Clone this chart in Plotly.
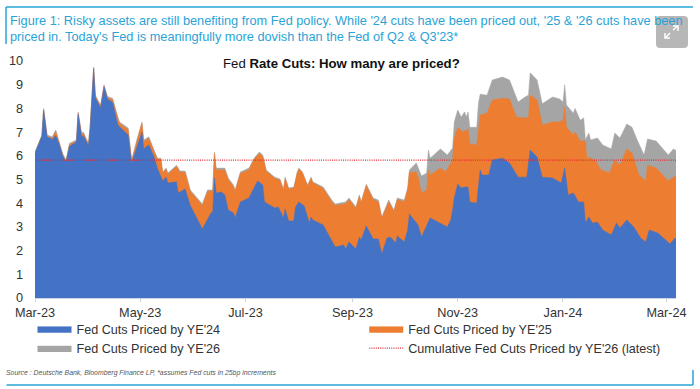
import pandas as pd
import plotly.graph_objects as go

START = pd.Timestamp("2023-03-01")

top_days = [0,4,5,7,10,12,14,16,18,20,24,25,27,28,31,32,34,35,38,40,42,45,48,49,54,56,59,62,63,66,69,71,73,74,76,77,82,84,87,90,97,100,103,104,105,110,112,115,116,119,124,127,130,132,134,139,142,144,145,147,150,152,153,155,158,160,161,167,172,174,180,182,186,188,189,192,196,199,201,205,208,210,214,216]
ye26_early = [6.16,6.88,8.0,6.88,6.8,7.09,6.6,6.1,5.82,6.53,6.67,7.85,6.96,7.0,6.53,7.3,9.75,8.56,8.14,9.0,8.5,8.43,7.64,7.43,7.17,5.82,6.67,7.43,6.67,6.8,6.24,5.9,5.9,5.32,5.48,5.27,5.6,5.36,5.36,4.56,3.97,4.56,4.56,6.16,5.48,5.48,5.06,4.77,4.56,5.32,5.48,5.9,6.16,6.03,5.4,5.1,5.02,4.6,5.1,4.64,4.68,5.32,5.48,5.32,4.77,5.1,4.9,4.68,4.13,3.97,4.05,4.22,3.84,4.35,4.05,4.8,4.22,4.13,3.42,4.13,3.71,4.22,4.13,4.64]
ye25_early = [6.13,6.84,7.95,6.83,6.74,7.03,6.55,6.05,5.77,6.48,6.62,7.8,6.9,6.95,6.47,7.25,9.7,8.5,8.08,8.95,8.44,8.36,7.57,7.36,7.1,5.77,6.6,7.37,6.6,6.73,6.18,5.85,5.85,5.27,5.43,5.22,5.55,5.31,5.3,4.5,3.9,4.5,4.5,6.1,5.4,5.4,5.0,4.7,4.5,5.25,5.4,5.85,6.1,5.97,5.35,5.05,4.97,4.55,5.05,4.6,4.63,5.28,5.44,5.27,4.72,5.05,4.86,4.62,4.06,3.9,3.98,4.15,3.78,4.3,4.0,4.75,4.15,4.06,3.37,4.06,3.65,4.16,4.05,4.58]

ye26_days = top_days + [217,221,224,227,228,229,235,239,242,243,245,247,249,250,251,252,256,257,258,262,265,271,275,280,284,286,287,291,294,300,304,306,307,308,312,313,316,318,319,321,322,326,329,334,336,339,343,346,349,353,355,360,367,370,372]
ye26 = ye26_early + [5.4,5.7,5.15,5.27,6.24,5.9,6.29,6.03,6.33,7.43,7.93,7.64,7.85,7.64,7.85,7.2,7.2,8.2,8.6,8.56,9.2,9.32,9.2,8.27,8.48,8.56,9.5,9.2,8.2,8.48,8.4,8.27,9.0,8.14,7.8,8.0,7.5,7.6,6.67,6.96,6.67,6.75,6.46,6.29,6.96,6.75,7.34,7.2,6.67,6.03,6.71,6.62,6.03,6.29,6.2]

ye25_days = top_days + [217,221,222,224,227,228,229,235,238,242,243,245,248,251,252,256,258,262,265,271,275,279,284,286,287,291,294,300,304,306,307,308,312,313,316,319,320,321,325,328,333,336,339,343,346,350,354,355,360,367,371,372]
ye25 = ye25_early + [5.3,5.32,5.1,4.43,4.56,5.4,5.19,5.48,5.32,5.82,6.75,7.2,7.0,7.13,6.5,6.46,7.72,7.8,8.35,8.43,8.4,7.64,7.6,7.6,8.56,8.35,7.3,7.43,7.43,7.5,8.06,7.2,6.88,7.0,6.62,6.62,5.7,5.95,5.78,5.4,5.27,5.82,5.6,6.29,6.12,5.19,4.94,5.6,5.48,4.94,5.15,5.1]

ye24_days = [0,4,5,7,10,12,14,16,18,20,24,25,27,28,31,32,34,35,38,40,42,45,48,54,56,59,62,63,66,69,71,74,76,77,82,83,87,90,97,102,103,104,105,108,110,112,115,116,119,124,127,129,132,133,139,141,144,145,147,150,151,153,156,159,160,161,167,171,174,179,180,182,186,188,189,192,196,199,201,204,206,209,210,214,216,217,222,224,229,239,241,242,243,245,247,249,251,252,256,258,259,263,265,271,275,280,285,287,291,294,300,305,307,309,312,315,318,319,321,323,326,329,334,337,339,343,347,351,354,356,361,368,371,372]
ye24 = [6.12,6.82,7.93,6.8,6.7,6.85,6.5,6.0,5.75,6.4,6.58,7.75,6.8,6.85,6.42,7.2,9.68,8.45,8.02,8.9,8.4,8.25,7.3,6.88,5.7,6.4,7.0,6.3,6.46,5.95,5.45,4.95,5.1,4.85,4.9,4.43,4.6,3.9,2.91,3.59,3.63,5.06,4.43,4.47,4.35,3.71,3.59,3.38,4.05,4.22,4.68,4.94,4.77,4.05,3.8,3.84,3.38,3.76,3.25,3.25,3.84,4.05,3.88,3.16,3.42,3.29,3.08,2.57,2.15,2.24,2.07,2.36,2.07,2.57,2.45,3.04,2.49,2.49,1.86,2.53,2.57,2.32,2.62,2.36,2.87,3.54,3.08,2.57,3.38,3.0,3.3,3.7,4.22,4.81,4.64,4.68,4.68,4.05,4.0,5.4,5.19,5.19,5.82,5.9,5.7,5.1,5.1,6.24,5.95,5.1,5.06,4.85,5.48,4.35,4.43,4.05,4.05,3.16,3.42,3.16,3.2,2.87,2.66,3.16,2.95,3.29,3.0,2.53,2.36,2.87,2.74,2.28,2.53,2.5]

latest_days = [0, 372]
latest = [5.82, 5.82]

tick_dates = ["2023-03-01","2023-05-01","2023-07-01","2023-09-01","2023-11-01","2024-01-01","2024-03-01"]
tick_labels = ["Mar-23","May-23","Jul-23","Sep-23","Nov-23","Jan-24","Mar-24"]
caption_1 = "Figure 1: Risky assets are still benefiting from Fed policy. While '24 cuts have been priced out, '25 & '26 cuts have been"
caption_2 = "priced in. Today's Fed is meaningfully more dovish than the Fed of Q2 & Q3'23*"
source_text = "Source : Deutsche Bank, Bloomberg Finance LP, *assumes Fed cuts in 25bp increments"

def dates(days):
    return [START + pd.Timedelta(days=d) for d in days]

W, H = 700, 389
L, R, T, B = 34.5, 676, 61, 298
def px(x): return (x - L) / (R - L)
def py(y): return (B - y) / (B - T)

FONT = "Liberation Sans"
FRAME = "#2aa3d6"
fig = go.Figure()
for name, d, v, col, rank, lg in [
    ("Fed Cuts Priced by YE'26", ye26_days, ye26, "#a5a5a5", 2, "legend"),
    ("Fed Cuts Priced by YE'25", ye25_days, ye25, "#ed7d31", 1, "legend2"),
    ("Fed Cuts Priced by YE'24", ye24_days, ye24, "#4472c4", 1, "legend"),
]:
    fig.add_trace(go.Scatter(x=dates(d), y=v, name=name, mode="lines", fill="tozeroy", legend=lg,
                             fillcolor=col, line=dict(color=col, width=0.5), legendrank=rank))
fig.add_trace(go.Scatter(x=dates(latest_days), y=latest, name="Cumulative Fed Cuts Priced by YE'26 (latest)", legend="legend2",
                         mode="lines", line=dict(color="#e3262e", width=1.2, dash="1px,1.2px"), legendrank=2))

shapes = []
def frame(x0, y0, x1, y1):
    shapes.append(dict(type="line", xref="paper", yref="paper", x0=px(x0), y0=py(y0), x1=px(x1), y1=py(y1),
                       line=dict(color=FRAME, width=1.5)))
frame(5.5, 7, 693, 7); frame(5.5, 7, 5.5, 44); frame(6, 385, 693, 385); frame(693, 370, 693, 385)
shapes.append(dict(type="path", xref="paper", yref="paper", fillcolor="rgba(170,170,170,0.85)", line=dict(width=0),
    path=f"M {px(660)} {py(16)} L {px(684)} {py(16)} Q {px(688)} {py(16)} {px(688)} {py(20)} L {px(688)} {py(44)} Q {px(688)} {py(48)} {px(684)} {py(48)} L {px(660)} {py(48)} Q {px(656)} {py(48)} {px(656)} {py(44)} L {px(656)} {py(20)} Q {px(656)} {py(16)} {px(660)} {py(16)} Z"))
for path in [[(665,38),(670,33)],[(673,30),(678,26)],[(665,33),(665,38),(670,38)],[(673,26),(678,26),(678,31)]]:
    d = "M " + " L ".join(f"{px(a)} {py(b)}" for a, b in path)
    shapes.append(dict(type="path", xref="paper", yref="paper", path=d, line=dict(color="white", width=1.5)))

def note(text, x, y, size, color, anchor="left"):
    return dict(text=text, xref="paper", yref="paper", x=px(x), y=py(y), showarrow=False, xanchor=anchor,
                yanchor="middle", font=dict(family=FONT, size=size, color=color))
annotations = [
    note(caption_1, 7, 20.5, 12.75, "#2aa3d6"),
    note(caption_2, 7, 36.5, 12.75, "#2aa3d6"),
    note("Fed <b>Rate Cuts: How many are priced?</b>", 221, 64, 13.2, "#111111"),
    note("<i>" + source_text + "</i>", 3, 373, 6.9, "#555555"),
]

legend_base = dict(xanchor="left", yanchor="top", orientation="v", itemwidth=34, tracegroupgap=0,
                   font=dict(family=FONT, size=12.6, color="#333333"), bgcolor="rgba(0,0,0,0)")

fig.update_layout(
    width=W, height=H, autosize=False, paper_bgcolor="white", plot_bgcolor="white",
    margin=dict(l=L, r=W - R, t=T, b=H - B, pad=0, autoexpand=False),
    font=dict(family=FONT, size=13, color="#333333"),
    shapes=shapes, annotations=annotations, showlegend=True, hovermode=False,
    legend=dict(x=px(32), y=py(314), **legend_base),
    legend2=dict(x=px(364), y=py(314), **legend_base),
    xaxis=dict(type="date", range=[START, START + pd.Timedelta(days=371.5)], tickmode="array",
               tickvals=tick_dates, ticktext=tick_labels, ticks="outside", ticklen=3, tickcolor="#c8d2e2",
               linecolor="#c8d2e2", linewidth=1, showline=True, showgrid=False, zeroline=False,
               tickfont=dict(size=12.7, color="#333333")),
    yaxis=dict(range=[0, 10], tickmode="array", tickvals=list(range(11)), ticks="", showline=False,
               ticklabelstandoff=11, showgrid=False, zeroline=False, tickfont=dict(size=12.7, color="#333333")),
)
fig.write_html("out.html", config={"displayModeBar": False},
               post_script="document.body.style.margin='0';window.dispatchEvent(new Event('resize'));")
